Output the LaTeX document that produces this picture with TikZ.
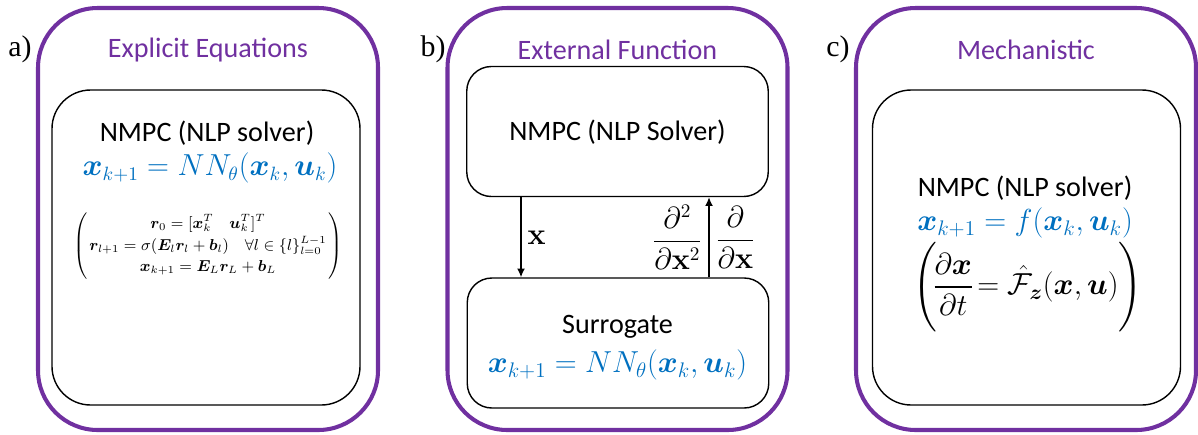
\documentclass[tikz,border=0pt]{standalone}
\usepackage{amsmath}
\usepackage{amssymb}
\usepackage{bm}
\usepackage[no-math]{fontspec}
\setmainfont{Carlito}
\newfontfamily\labfont{Liberation Serif}
\usepackage{tikz}
\usetikzlibrary{arrows.meta}

\definecolor{panelpurple}{RGB}{112,48,160}
\definecolor{eqblue}{RGB}{0,112,192}

\tikzset{
  outer/.style={draw=panelpurple, line width=2.3pt, rounded corners=34pt,
    minimum width=6.8cm, minimum height=8.44cm},
  solver/.style={draw, line width=0.8pt, rounded corners=22pt,
    minimum width=6.16cm, minimum height=6.3cm},
  smallbox/.style={draw, line width=0.8pt, rounded corners=14pt,
    minimum width=6.03cm, minimum height=2.6cm},
  title/.style={text=panelpurple, font=\fontsize{16}{19}\selectfont},
  plain/.style={font=\fontsize{16}{19}\selectfont},
  blueeq/.style={text=eqblue, font=\fontsize{17}{20}\selectfont},
  lab/.style={font=\labfont\fontsize{17}{20}\selectfont},
  arr/.style={-{Latex[length=5pt,width=4.5pt]}, line width=0.8pt}
}

\begin{document}
\begin{tikzpicture}
        \useasboundingbox (0,0) rectangle (23.96,-8.68);

        % a) explicit equations
        \node[outer]  (boxA)    at (4.16,-4.38) {};
        \node[lab]    (labA)    at (0.4,-0.98)  {a)};
        \node[title]  (titleA)  at (4.16,-1.0)  {Explicit Equations};
        \node[solver] (solverA) at (4.12,-4.95) {};
        \node[plain]  (nmpcA)   at (4.14,-2.66) {NMPC (NLP solver)};
        \node[blueeq, font=\fontsize{16}{19}\selectfont] (eqA) at (4.2,-3.36)
          {$\bm{x}_{k+1} = NN_\theta(\bm{x}_k, \bm{u}_k)$};
        \node[font=\fontsize{9}{11}\selectfont] (annA) at (4.16,-4.92)
          {\renewcommand{\arraystretch}{1.12}%
           $\left(\!\begin{array}{@{\;}c@{\;}}
            \bm{r}_0 = [\bm{x}_k^T \quad \bm{u}_k^T]^T\\
            \bm{r}_{l+1} = \sigma(\bm{E}_l\bm{r}_l + \bm{b}_l) \quad
              \forall l \in \{l\}_{l=0}^{L-1}\\
            \bm{x}_{k+1} = \bm{E}_L\bm{r}_L + \bm{b}_L
          \end{array}\!\right)$};

        % b) external function
        \node[outer]    (boxB)    at (12.35,-4.38) {};
        \node[lab]      (labB)    at (8.66,-0.98)  {b)};
        \node[title]    (titleB)  at (12.35,-1.0)  {External Function};
        \node[smallbox] (solverB) at (12.35,-2.63) {};
        \node[plain]    (nmpcB)   at (12.35,-2.64) {NMPC (NLP Solver)};
        \node[smallbox] (surr)    at (12.36,-6.86) {};
        \node[plain]    (surrB)   at (12.35,-6.54) {Surrogate};
        \node[blueeq]   (eqB)     at (12.35,-7.3)
          {$\bm{x}_{k+1} = NN_\theta(\bm{x}_k, \bm{u}_k)$};

        \coordinate (dnx) at (10.42,0);
        \coordinate (upx) at (14.18,0);
        \draw[arr] (solverB.south -| dnx) to
          node[right, font=\fontsize{16}{19}\selectfont] {$\mathbf{x}$} (surr.north -| dnx);
        \draw[arr] (surr.north -| upx) to
          node[left, font=\fontsize{16}{19}\selectfont]
            {$\dfrac{\partial^2}{\partial\mathbf{x}^2}$}
          node[right, font=\fontsize{16}{19}\selectfont]
            {$\dfrac{\partial}{\partial\mathbf{x}}$} (solverB.south -| upx);

        % c) mechanistic
        \node[outer]  (boxC)    at (20.52,-4.38) {};
        \node[lab]    (labC)    at (16.76,-0.98) {c)};
        \node[title]  (titleC)  at (20.52,-1.0)  {Mechanistic};
        \node[solver] (solverC) at (20.53,-4.95) {};
        \node[plain]  (nmpcC)   at (20.5,-3.76)  {NMPC (NLP solver)};
        \node[blueeq] (eqC)     at (20.5,-4.46)
          {$\bm{x}_{k+1} = f(\bm{x}_k, \bm{u}_k)$};
        \node[font=\fontsize{17}{20}\selectfont] (odeC) at (20.56,-5.74)
          {$\left(\rule[-0.7cm]{0pt}{1.4cm}\!\dfrac{\partial\bm{x}}{\partial t}
            \!= \hat{\mathcal{F}}_{\bm{z}}(\bm{x}, \bm{u})\right)$};

      \end{tikzpicture}
\end{document}
